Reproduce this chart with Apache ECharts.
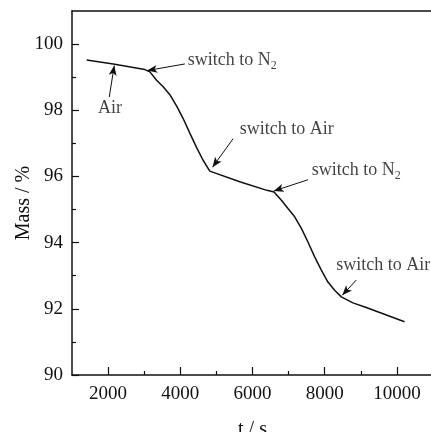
<!DOCTYPE html>
<html>
<head>
<meta charset="utf-8">
<script src="https://cdn.jsdelivr.net/npm/echarts@6/dist/echarts.min.js"></script>
<style>
html,body{margin:0;padding:0;background:#fff;}
#chart{width:431px;height:432px;}
</style>
</head>
<body>
<div id="chart"></div>
<script>
// Curve data (time in s, mass in %)
const timeS = [1407, 2142, 3019, 3157, 3343, 3525, 3711, 3896, 4079, 4264, 4449, 4632, 4817, 4864, 5647, 6400, 6596, 6800, 6983, 7168, 7354, 7536, 7722, 7907, 8089, 8275, 8460, 8781, 9151, 10211];
const massPct = [99.52, 99.40, 99.23, 99.16, 98.91, 98.71, 98.47, 98.13, 97.75, 97.31, 96.88, 96.49, 96.16, 96.12, 95.84, 95.58, 95.53, 95.28, 95.03, 94.78, 94.43, 94.02, 93.57, 93.17, 92.81, 92.56, 92.36, 92.18, 92.04, 91.61];

// Axis ticks
const xLabelTicks = [2000, 4000, 6000, 8000, 10000];
const xMinorTicks = [3000, 5000, 7000, 9000];
const yLabelTicks = [90, 92, 94, 96, 98, 100];
const yMinorTicks = [91, 93, 95, 97, 99];

// Annotations
const noteTexts = ['Air', 'switch to N{sub|2}', 'switch to Air', 'switch to N{sub|2}', 'switch to Air'];
const noteTextT = [2051, 4209, 5647, 7638, 8322];
const noteTextM = [98.05, 99.50, 97.44, 96.18, 93.32];
const arrowFromT = [2032, 4126, 5462, 7536, 8875];
const arrowFromM = [98.40, 99.40, 97.14, 95.90, 92.87];
const arrowToT = [2170, 3083, 4892, 6587, 8487];
const arrowToM = [99.35, 99.20, 96.28, 95.56, 92.41];

const FONT = 'Liberation Serif';
const chart = echarts.init(document.getElementById('chart'));

const curve = timeS.map((t, i) => [t, massPct[i]]);
const notes = noteTexts.map((s, i) => ({
  value: [noteTextT[i], noteTextM[i]],
  label: { formatter: s, position: i === 0 ? 'inside' : 'right', distance: 0 }
}));
const arrows = arrowFromT.map((t, i) => [
  { coord: [t, arrowFromM[i]] },
  { coord: [arrowToT[i], arrowToM[i]] }
]);

const tickText = { fontFamily: FONT, fontSize: 19, color: '#111' };
const nameText = { fontFamily: FONT, fontSize: 20, color: '#111' };
const lineCol = '#111';

chart.setOption({
  animation: false,
  backgroundColor: '#fff',
  grid: { left: 72, top: 11, width: 361, bottom: 57, show: false, containLabel: false, outerBoundsMode: 'none' },
  xAxis: [{
    type: 'value', min: 1000, max: 11000, position: 'bottom',
    name: 't / s', nameLocation: 'middle', nameGap: 45, nameTextStyle: nameText, nameMoveOverlap: false,
    axisLine: { show: true, lineStyle: { color: lineCol, width: 1.5 } },
    axisTick: { show: true, inside: true, length: 8, customValues: xLabelTicks, lineStyle: { color: lineCol, width: 1.2 } },
    axisLabel: { customValues: xLabelTicks, margin: 10, formatter: v => String(v), ...tickText },
    splitLine: { show: false }
  }, {
    type: 'value', min: 1000, max: 11000, position: 'bottom',
    axisLine: { show: false },
    axisTick: { show: true, inside: true, length: 4, customValues: xMinorTicks, lineStyle: { color: lineCol, width: 1.2 } },
    axisLabel: { show: false },
    splitLine: { show: false }
  }, {
    type: 'value', min: 1000, max: 11000, position: 'top',
    axisLine: { show: true, lineStyle: { color: lineCol, width: 1.5 } },
    axisTick: { show: false },
    axisLabel: { show: false },
    splitLine: { show: false }
  }],
  yAxis: [{
    type: 'value', min: 90, max: 101, position: 'left',
    name: 'Mass / %', nameLocation: 'middle', nameGap: 38, nameMoveOverlap: false,
    nameTextStyle: { ...nameText, padding: [0, 20, 0, 0] },
    axisLine: { show: true, lineStyle: { color: lineCol, width: 1.5 } },
    axisTick: { show: true, inside: true, length: 7, customValues: yLabelTicks, lineStyle: { color: lineCol, width: 1.2 } },
    axisLabel: { customValues: yLabelTicks, margin: 9, formatter: v => String(v), ...tickText },
    splitLine: { show: false }
  }, {
    type: 'value', min: 90, max: 101, position: 'left',
    axisLine: { show: false },
    axisTick: { show: true, inside: true, length: 4, customValues: yMinorTicks, lineStyle: { color: lineCol, width: 1.2 } },
    axisLabel: { show: false },
    splitLine: { show: false }
  }],
  series: [{
    type: 'line', data: curve, showSymbol: false, symbol: 'none', smooth: false,
    lineStyle: { color: lineCol, width: 1.5 },
    silent: true,
    markLine: {
      silent: true, animation: false,
      symbol: ['none', 'arrow'], symbolSize: [6, 10],
      itemStyle: { color: lineCol },
      lineStyle: { color: lineCol, width: 1, type: 'solid' },
      label: { show: false },
      emphasis: { disabled: true },
      data: arrows
    }
  }, {
    type: 'scatter', data: notes, symbolSize: 0, silent: true,
    label: {
      show: true, color: '#111', fontFamily: FONT, fontSize: 18,
      rich: { sub: { fontFamily: FONT, fontSize: 12, color: '#111', verticalAlign: 'bottom', padding: [10, 0, 0, 0] } }
    }
  }]
});
</script>
</body>
</html>
